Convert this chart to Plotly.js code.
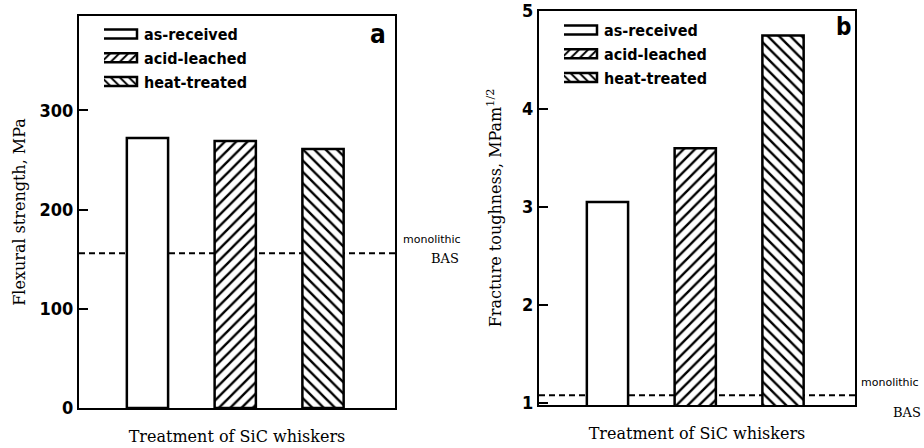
<!DOCTYPE html>
<html>
<head>
<meta charset="utf-8">
<script src="https://cdn.plot.ly/plotly-3.0.1.min.js"></script>
<style>html,body{margin:0;padding:0;background:#fff;}#chart{width:924px;height:448px;}</style>
</head>
<body>
<div id="chart"></div>
<script>
// ---- data ----
const treatments = ["as-received", "acid-leached", "heat-treated"];
const positions = [1, 2, 3];
const flexuralStrength = [272, 269, 261];      // MPa (panel a)
const fractureToughness = [3.05, 3.6, 4.75];   // MPa m^1/2 (panel b)
const monolithicBAS = [156, 1.08];             // reference lines: [panel a, panel b]
const strengthTicks = [0, 100, 200, 300];
const toughnessTicks = [1, 2, 3, 4, 5];

// ---- styles ----
const patterns = ["", "/", "\\"];
const condensed = "DejaVu Sans Condensed, Liberation Sans Narrow, sans-serif";
const tickFont = {family: condensed, size: 18, color: "#000", weight: 700};
const legendFont = {family: condensed, size: 16, color: "#000", weight: 700};
const titleFont = {family: "DejaVu Serif, Liberation Serif, serif", size: 16, color: "#000"};
const noteFont = {family: "DejaVu Sans, sans-serif", size: 11, color: "#000"};
const basFont = {family: "DejaVu Serif, serif", size: 13, color: "#000"};

function barTrace(i, vals, xa, ya, legendName) {
  return {
    type: "bar",
    name: treatments[i],
    x: [positions[i]],
    y: [vals[i]],
    xaxis: xa, yaxis: ya,
    width: 0.47,
    legend: legendName,
    marker: {
      color: "#fff",
      line: {color: "#000", width: 2.5},
      pattern: {shape: patterns[i], fgcolor: "#000", bgcolor: "#fff", size: 8, solidity: 0.3}
    },
    hoverinfo: "x+y"
  };
}

const traces = [];
for (let i = 0; i < treatments.length; i++) traces.push(barTrace(i, flexuralStrength, "x", "y", "legend"));
for (let i = 0; i < treatments.length; i++) traces.push(barTrace(i, fractureToughness, "x2", "y2", "legend2"));

const W = 924, H = 448;
const xCommon = {
  range: [0.22, 3.82], showticklabels: false, ticks: "", showgrid: false, zeroline: false,
  showline: true, mirror: true, linecolor: "#000", linewidth: 2, fixedrange: true,
  title: {text: "Treatment of SiC whiskers", font: titleFont, standoff: 22}
};
const yCommon = {
  showgrid: false, zeroline: false, showline: true, mirror: true, linecolor: "#000", linewidth: 2,
  ticks: "inside", ticklen: 9, tickwidth: 2, tickcolor: "#000", tickfont: tickFont, fixedrange: true
};

const layout = {
  width: W, height: H,
  margin: {l: 0, r: 0, t: 0, b: 0},
  paper_bgcolor: "#fff", plot_bgcolor: "#fff",
  barmode: "overlay",
  xaxis: Object.assign({}, xCommon, {domain: [79 / W, 395 / W], anchor: "y"}),
  yaxis: Object.assign({}, yCommon, {domain: [40 / H, 432 / H], anchor: "x", range: [0, 395],
    tickvals: strengthTicks, title: {text: "Flexural strength, MPa", font: titleFont, standoff: 10}}),
  xaxis2: Object.assign({}, xCommon, {domain: [539 / W, 855 / W], anchor: "y2"}),
  yaxis2: Object.assign({}, yCommon, {domain: [43 / H, 437 / H], anchor: "x2", range: [0.98, 5.0],
    tickvals: toughnessTicks, title: {text: "Fracture toughness, MPam<sup>1/2</sup>", font: titleFont, standoff: 17}}),
  legend: {x: 104 / W, y: 1 - 17 / H, xanchor: "left", yanchor: "top", bgcolor: "rgba(0,0,0,0)",
    font: legendFont, itemwidth: 30, tracegroupgap: 0},
  legend2: {x: 564 / W, y: 1 - 13 / H, xanchor: "left", yanchor: "top", bgcolor: "rgba(0,0,0,0)",
    font: legendFont, itemwidth: 30, tracegroupgap: 0},
  shapes: [
    {type: "line", layer: "below", xref: "x domain", yref: "y", x0: 0, x1: 1, y0: monolithicBAS[0], y1: monolithicBAS[0],
      line: {color: "#000", width: 2, dash: "6px,4px"}},
    {type: "line", layer: "below", xref: "x2 domain", yref: "y2", x0: 0, x1: 1, y0: monolithicBAS[1], y1: monolithicBAS[1],
      line: {color: "#000", width: 2, dash: "6px,4px"}}
  ],
  annotations: [
    {text: "a", xref: "paper", yref: "paper", x: 378 / W, y: 1 - 34 / H, xanchor: "center", yanchor: "middle", showarrow: false,
      font: {family: condensed, size: 26, weight: 700, color: "#000"}},
    {text: "b", xref: "paper", yref: "paper", x: 843 / W, y: 1 - 27 / H, xanchor: "center", yanchor: "middle", showarrow: false,
      font: {family: condensed, size: 24, weight: 700, color: "#000"}},
    {text: "monolithic", xref: "paper", yref: "paper", x: 401 / W, y: 1 - 239 / H, xanchor: "left", yanchor: "middle", showarrow: false, font: noteFont},
    {text: "BAS", xref: "paper", yref: "paper", x: 461 / W, y: 1 - 258 / H, xanchor: "right", yanchor: "middle", showarrow: false, font: basFont},
    {text: "monolithic", xref: "paper", yref: "paper", x: 859 / W, y: 1 - 382 / H, xanchor: "left", yanchor: "middle", showarrow: false, font: noteFont},
    {text: "BAS", xref: "paper", yref: "paper", x: 923 / W, y: 1 - 412 / H, xanchor: "right", yanchor: "middle", showarrow: false, font: basFont}
  ]
};

Plotly.newPlot("chart", traces, layout, {staticPlot: true, displayModeBar: false}).then(function (gd) {
  // widen the legend swatches into the flat rectangles used in the original figure
  gd.querySelectorAll(".legendpoints path").forEach(function (p) {
    p.setAttribute("d", "M-22,-4.5H13V4.5H-22Z");
  });
});
</script>
</body>
</html>
